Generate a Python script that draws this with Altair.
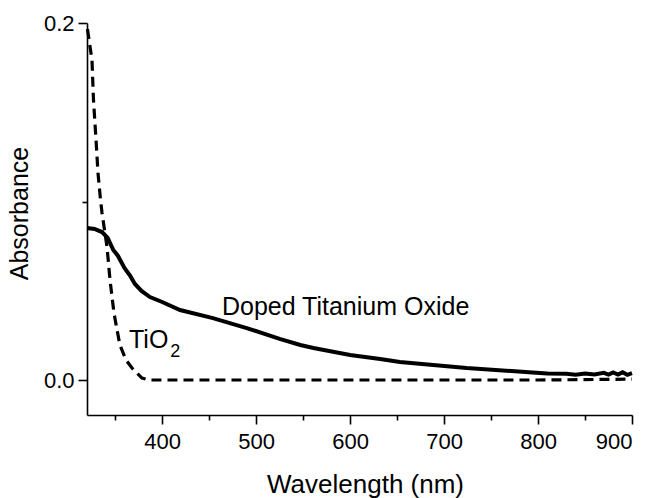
import altair as alt
import pandas as pd

# Doped titanium oxide (solid)
doped_wl = [320, 328, 336, 342, 348, 353, 360, 366, 371, 378, 387, 400, 419, 454, 490, 525,
            547, 561, 600, 632, 653, 724, 794, 810, 830, 840, 850, 860, 870, 875, 880, 885,
            890, 895, 900]
doped_abs = [0.0852, 0.0846, 0.0829, 0.0796, 0.0728, 0.0695, 0.0627, 0.0583, 0.0538, 0.0499,
             0.0465, 0.0437, 0.0392, 0.0347, 0.0291, 0.0230, 0.0196, 0.0179, 0.0140, 0.0118,
             0.0101, 0.0067, 0.0042, 0.0036, 0.0035, 0.0030, 0.0037, 0.0031, 0.0040, 0.0030,
             0.0042, 0.0031, 0.0043, 0.0029, 0.0038]

# Undoped TiO2 (dashed)
tio2_wl = [320.5, 325.3, 326.9, 329.6, 331.7, 334.4, 336, 341.3, 344.5, 348.7, 355, 361.5,
           367.9, 378.5, 387, 500, 650, 800, 900]
tio2_abs = [0.1966, 0.1793, 0.1569, 0.1345, 0.1160, 0.1008, 0.0936, 0.0745, 0.0560, 0.0375,
            0.0196, 0.0112, 0.0067, 0.0011, 0.0, 0.0, 0.0, 0.0, 0.0005]

label_text = ["Doped Titanium Oxide", "TiO"]
label_wl = [463.6, 364.7]
label_abs = [0.0364, 0.0179]
sub_text = ["2"]
sub_wl = [408.6]
sub_abs = [0.0129]

x_ticks = [350, 400, 450, 500, 550, 600, 650, 700, 750, 800, 850, 900]
y_ticks = [0.0, 0.1, 0.2]

FONT = "Liberation Sans"

doped = pd.DataFrame({"wl": doped_wl, "a": doped_abs})
tio2 = pd.DataFrame({"wl": tio2_wl, "a": tio2_abs})
labels = pd.DataFrame({"wl": label_wl, "a": label_abs, "t": label_text})
subs = pd.DataFrame({"wl": sub_wl, "a": sub_abs, "t": sub_text})

xscale = alt.Scale(domain=[320, 900], nice=False, zero=False)
yscale = alt.Scale(domain=[-0.0196, 0.2], nice=False, zero=False)

xaxis = alt.Axis(
    values=x_ticks,
    labelExpr="datum.value % 100 === 0 ? datum.label : ''",
    tickSize={"condition": {"test": "datum.value % 100 !== 0", "value": 5}, "value": 9},
    labelPadding=7,
    labelFontSize=22,
    labelFont=FONT,
    labelColor="black",
    title="Wavelength (nm)",
    titleFont=FONT,
    titleFontSize=26,
    titleFontWeight="normal",
    titleColor="black",
    titleX=278,
    titleY=77,
    titleAlign="center",
    titleBaseline="alphabetic",
    domainColor="black",
    domainWidth=1.6,
    tickColor="black",
    tickWidth=1.6,
    grid=False,
)

yaxis = alt.Axis(
    values=y_ticks,
    labelExpr="(datum.value > 0.05 && datum.value < 0.15) ? '' : format(datum.value, '.1f')",
    tickSize={"condition": {"test": "datum.value > 0.05 && datum.value < 0.15", "value": 5}, "value": 9},
    labelPadding=4,
    labelFontSize=22,
    labelFont=FONT,
    labelColor="black",
    title="Absorbance",
    titleFont=FONT,
    titleFontSize=25,
    titleFontWeight="normal",
    titleColor="black",
    titleX=-60,
    titleY=190,
    titleAngle=-90,
    titleAlign="center",
    titleBaseline="alphabetic",
    domainColor="black",
    domainWidth=1.6,
    tickColor="black",
    tickWidth=1.6,
    grid=False,
)

solid = alt.Chart(doped).mark_line(color="black", strokeWidth=4).encode(
    x=alt.X("wl:Q", scale=xscale, axis=xaxis),
    y=alt.Y("a:Q", scale=yscale, axis=yaxis),
)

dashed = alt.Chart(tio2).mark_line(color="black", strokeWidth=3.2, strokeDash=[10, 6]).encode(
    x=alt.X("wl:Q", scale=xscale),
    y=alt.Y("a:Q", scale=yscale),
)

text = alt.Chart(labels).mark_text(
    align="left", baseline="alphabetic", font=FONT, fontSize=25, color="black"
).encode(
    x=alt.X("wl:Q", scale=xscale),
    y=alt.Y("a:Q", scale=yscale),
    text="t:N",
)

subtext = alt.Chart(subs).mark_text(
    align="left", baseline="alphabetic", font=FONT, fontSize=18, color="black"
).encode(
    x=alt.X("wl:Q", scale=xscale),
    y=alt.Y("a:Q", scale=yscale),
    text="t:N",
)

chart = (
    alt.layer(solid, dashed, text, subtext)
    .properties(
        width=545,
        height=392,
        autosize=alt.AutoSizeParams(type="none"),
        padding={"left": 87, "top": 23, "right": 20, "bottom": 83},
        background="white",
    )
    .configure_view(stroke=None)
)

chart.save("out.html", embed_options={"renderer": "svg", "actions": False})
